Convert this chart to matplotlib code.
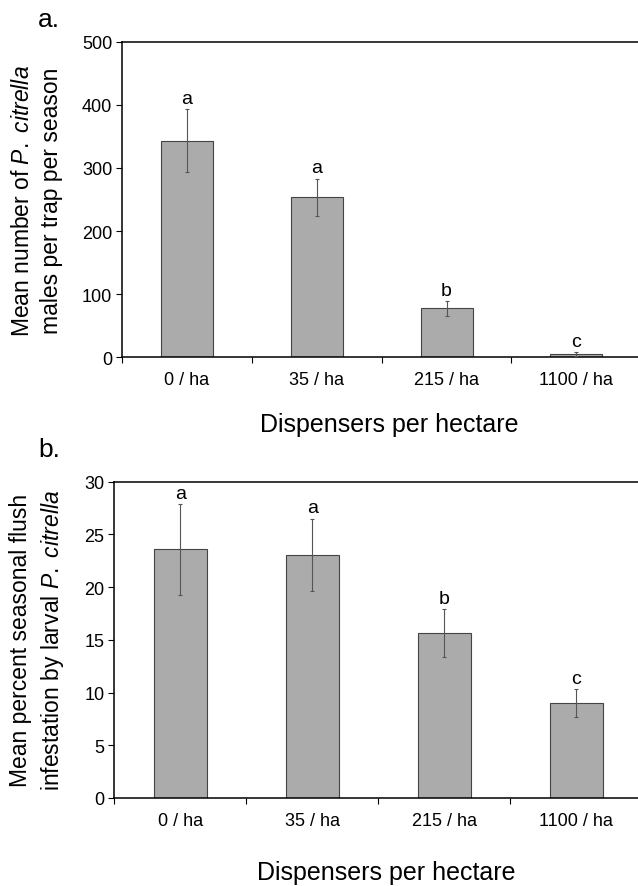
import matplotlib
matplotlib.use('Agg')
import matplotlib.pyplot as plt
import numpy as np

plt.rcParams['font.family'] = ['Liberation Sans', 'DejaVu Sans']
plt.rcParams['mathtext.fontset'] = 'custom'
plt.rcParams['mathtext.rm'] = 'Liberation Sans'
plt.rcParams['mathtext.it'] = 'Liberation Sans:italic'

# data
dispensers = ['0 / ha', '35 / ha', '215 / ha', '1100 / ha']

males_mean = [343, 253.5, 77.6, 5.2]
males_err = [50, 29.6, 11.8, 2.5]
males_letters = ['a', 'a', 'b', 'c']

flush_mean = [23.6, 23.05, 15.65, 9.0]
flush_err = [4.3, 3.45, 2.25, 1.33]
flush_letters = ['a', 'a', 'b', 'c']

BAR = '#aaabaa'
EDGE = '#444444'

fig = plt.figure(figsize=(6.38, 8.87), dpi=100)


def panel(ax, means, errs, letters, ymax, ystep, ylabel, ylab_x, xlab_y):
    x = np.arange(1, len(dispensers) + 1)
    ax.bar(x, means, width=0.4, color=BAR, edgecolor=EDGE, linewidth=0.8, zorder=2)
    ax.errorbar(x, means, yerr=errs, fmt='none', ecolor='#555555',
                elinewidth=0.8, capsize=1.5, capthick=0.8, zorder=3)
    for xi, m, e, lab in zip(x, means, errs, letters):
        ax.annotate(lab, (xi, m + e), xytext=(0, 4.5), textcoords='offset points',
                    ha='center', va='baseline', fontsize=14)

    ax.set_xlim(0.5, len(dispensers) + 0.5)
    ax.set_ylim(0, ymax)
    ax.set_yticks(np.arange(0, ymax + 1, ystep))
    ax.set_xticks(np.arange(0.5, len(dispensers) + 1, 1.0))
    ax.set_xticklabels([])
    ax.set_xticks(x, minor=True)
    ax.set_xticklabels(dispensers, minor=True)
    ax.tick_params(axis='x', which='minor', length=0, pad=10, labelsize=13)
    ax.tick_params(axis='x', which='major', direction='out', length=4, width=0.8)
    ax.tick_params(axis='y', direction='out', length=4, width=0.8, labelsize=13, pad=3)

    ax.spines['right'].set_visible(False)
    for s in ['left', 'top', 'bottom']:
        ax.spines[s].set_linewidth(1.1)
        ax.spines[s].set_color('black')

    ax.set_ylabel(ylabel, fontsize=16.5, linespacing=1.35, va='center', ha='center',
                  multialignment='center')
    ax.yaxis.set_label_coords(ylab_x, 0.5)
    ax.set_xlabel('Dispensers per hectare', fontsize=18, va='center')
    ax.xaxis.set_label_coords(0.515, xlab_y)


ax1 = fig.add_axes([122 / 638, 1 - 358.3 / 887, 519.3 / 638, 315.6 / 887])
panel(ax1, males_mean, males_err, males_letters, 500, 100,
      'Mean number of $\\mathit{P.\\ citrella}$\nmales per trap per season',
      -0.164, -0.212)

ax2 = fig.add_axes([114.3 / 638, 1 - 799 / 887, 528 / 638, 316.3 / 887])
panel(ax2, flush_mean, flush_err, flush_letters, 30, 5,
      'Mean percent seasonal flush\ninfestation by larval $\\mathit{P.\\ citrella}$',
      -0.146, -0.235)

fig.text(49 / 638, 1 - 20 / 887, 'a.', fontsize=19, ha='center', va='center')
fig.text(49 / 638, 1 - 450 / 887, 'b.', fontsize=19, ha='center', va='center')

fig.savefig('out.png', dpi=100)
